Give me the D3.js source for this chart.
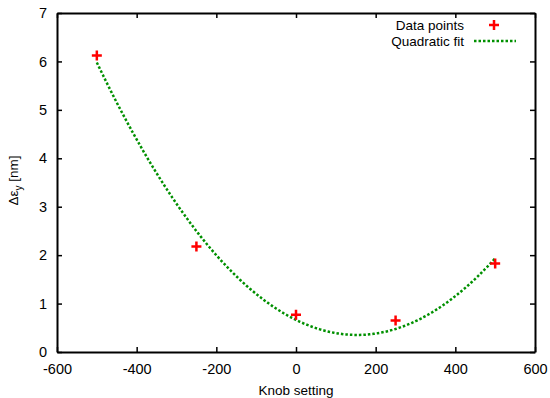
<!DOCTYPE html>
<html>
<head>
<meta charset="utf-8">
<script src="https://cdn.jsdelivr.net/npm/d3@7"></script>
<style>
  html, body { margin: 0; padding: 0; background: #fff; }
  svg text { font-family: "Liberation Sans", Arial, Helvetica, sans-serif; fill: #000; }
</style>
</head>
<body>
<svg id="chart" width="550" height="398"></svg>
<script>
// Measured emittance growth for each knob setting
const knobSettings = [-500, -250, 0, 250, 500];
const deltaEmit = [6.12, 2.18, 0.77, 0.65, 1.83];

const xTicks = [-600, -400, -200, 0, 200, 400, 600];
const yTicks = [0, 1, 2, 3, 4, 5, 6, 7];

const legendLabels = ["Data points", "Quadratic fit"];

// Least-squares quadratic through the measured points
function quadFit(xs, ys) {
  const s = [0, 0, 0, 0, 0], t = [0, 0, 0];
  xs.forEach((xv, i) => {
    for (let k = 0; k < 5; k++) s[k] += Math.pow(xv, k);
    for (let k = 0; k < 3; k++) t[k] += Math.pow(xv, k) * ys[i];
  });
  const A = [[s[0], s[1], s[2]], [s[1], s[2], s[3]], [s[2], s[3], s[4]]];
  const det = m => m[0][0]*(m[1][1]*m[2][2]-m[1][2]*m[2][1]) - m[0][1]*(m[1][0]*m[2][2]-m[1][2]*m[2][0]) + m[0][2]*(m[1][0]*m[2][1]-m[1][1]*m[2][0]);
  const D = det(A);
  return [0, 1, 2].map(c => det(A.map((row, r) => row.map((v, j) => j === c ? t[r] : v))) / D);
}
const coef = quadFit(knobSettings, deltaEmit);
const fitX = d3.range(-500, 500.001, 5);
const fitY = fitX.map(xv => coef[0] + coef[1] * xv + coef[2] * xv * xv);

const margin = { left: 57, right: 15, top: 13, bottom: 46 };
const W = 550, H = 398;
const svg = d3.select("#chart");

const x = d3.scaleLinear().domain([-600, 600]).range([margin.left, W - margin.right]);
const y = d3.scaleLinear().domain([0, 7]).range([H - margin.bottom, margin.top]);

const tickLen = 5;
const plain = d => String(d);
const frame = svg.append("g");

// Axes with inward ticks on all four sides
frame.append("g").attr("transform", `translate(0,${y(0)})`)
  .call(d3.axisBottom(x).tickValues(xTicks).tickFormat(plain).tickSizeInner(-tickLen).tickSizeOuter(0).tickPadding(12));
frame.append("g").attr("transform", `translate(0,${y(7)})`)
  .call(d3.axisTop(x).tickValues(xTicks).tickSizeInner(-tickLen).tickSizeOuter(0).tickFormat(""));
frame.append("g").attr("transform", `translate(${x(-600)},0)`)
  .call(d3.axisLeft(y).tickValues(yTicks).tickFormat(plain).tickSizeInner(-tickLen).tickSizeOuter(0).tickPadding(10));
frame.append("g").attr("transform", `translate(${x(600)},0)`)
  .call(d3.axisRight(y).tickValues(yTicks).tickSizeInner(-tickLen).tickSizeOuter(0).tickFormat(""));

frame.selectAll(".domain").attr("stroke", "#000").attr("stroke-width", 2);
frame.selectAll(".tick line").attr("stroke", "#000").attr("stroke-width", 1.5);
frame.selectAll(".tick text").attr("font-size", 14.5).attr("font-family", "Liberation Sans, Arial, sans-serif").attr("fill", "#000");

// Fitted curve
const line = d3.line().x((d, i) => x(fitX[i])).y(d => y(d));
svg.append("path")
  .datum(fitY)
  .attr("d", line)
  .attr("fill", "none")
  .attr("stroke", "#009000")
  .attr("stroke-width", 2.5)
  .attr("stroke-dasharray", "2.5,2");

// Data points as red plus markers
const ms = 5;
const pts = svg.append("g").attr("stroke", "#ff0000").attr("stroke-width", 2.5);
knobSettings.forEach((k, i) => {
  const px = x(k), py = y(deltaEmit[i]);
  pts.append("path").attr("d", `M${px - ms},${py}H${px + ms}M${px},${py - ms}V${py + ms}`);
});

// Legend
const lg = svg.append("g");
lg.append("text").attr("x", 464).attr("y", 30).attr("text-anchor", "end").attr("font-size", 13.5).text(legendLabels[0]);
lg.append("path").attr("d", `M${494 - ms},25H${494 + ms}M494,${25 - ms}V${25 + ms}`)
  .attr("stroke", "#ff0000").attr("stroke-width", 2.5);
lg.append("text").attr("x", 464).attr("y", 46).attr("text-anchor", "end").attr("font-size", 13.5).text(legendLabels[1]);
lg.append("line").attr("x1", 474).attr("x2", 516).attr("y1", 41).attr("y2", 41)
  .attr("stroke", "#009000").attr("stroke-width", 2.5).attr("stroke-dasharray", "2.5,2");

// Axis titles
svg.append("text").attr("x", (x(-600) + x(600)) / 2).attr("y", 395)
  .attr("text-anchor", "middle").attr("font-size", 13.5).text("Knob setting");

const yt = svg.append("text")
  .attr("transform", `translate(18,${(y(0) + y(7)) / 2 - 2}) rotate(-90)`)
  .attr("text-anchor", "middle").attr("font-size", 13.5);
yt.append("tspan").text("Δε");
yt.append("tspan").attr("font-size", 10).attr("dy", 4).text("y");
yt.append("tspan").attr("dy", -4).text(" [nm]");
</script>
</body>
</html>
